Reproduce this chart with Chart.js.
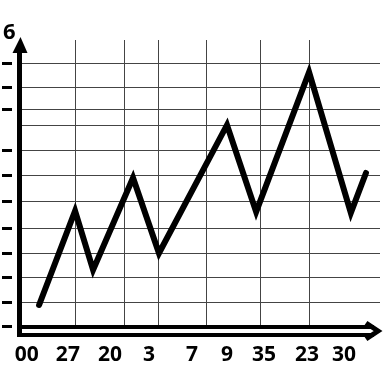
<!DOCTYPE html>
<html>
<head>
<meta charset="utf-8">
<script src="https://cdn.jsdelivr.net/npm/chart.js@4.4.1/dist/chart.umd.min.js"></script>
<style>
  html, body { margin: 0; padding: 0; background: #fff; }
  #wrap { width: 384px; height: 384px; }
</style>
</head>
<body>
<div id="wrap"><canvas id="grafico"></canvas></div>
<script>
// datos
let xValores = [5.3, 15.3, 20.3, 31.4, 38.6, 57.5, 65.6, 80.3, 91.9, 96.1];
let yValores = [0.48, 2.44, 1.21, 3.13, 1.56, 4.23, 2.42, 5.33, 2.40, 3.23];

// etiquetas del eje x y donde caen
let etiquetasX = ['00', '27', '20', '3', '7', '9', '35', '23', '30'];
let posEtiquetasX = [1.9, 13.3, 25.0, 35.8, 47.8, 57.5, 67.8, 79.7, 90.0];

// lineas de la cuadricula
let lineasVerticales = [15.3, 28.9, 38.6, 51.9, 66.7, 80.3];
let lineasHorizontales = [5.52, 5.02, 4.56, 4.21, 3.69, 3.17, 2.63, 2.08, 1.56, 1.06, 0.54];

// marcas cortas a la izquierda del eje y
let marcasY = [5.52, 5.02, 4.56, 3.69, 3.17, 2.63, 2.08, 1.56, 1.06, 0.54, 0.04];
let etiquetaArriba = '6';

let fuente = "'Open Sans', 'Noto Sans', sans-serif";

let puntos = [];
for (let i = 0; i < xValores.length; i++) {
    puntos.push({ x: xValores[i], y: yValores[i] });
}

// dibuja los ejes con flechas
let ejesConFlecha = {
    id: 'ejesConFlecha',
    afterDraw: function(chart) {
        let ctx = chart.ctx;
        let area = chart.chartArea;
        ctx.save();
        ctx.strokeStyle = '#000';
        ctx.fillStyle = '#000';

        // eje y
        let xEje = area.left - 0.5;
        ctx.lineWidth = 5;
        ctx.beginPath();
        ctx.moveTo(xEje, area.bottom + 9);
        ctx.lineTo(xEje, area.top + 10);
        ctx.stroke();
        ctx.beginPath();
        ctx.moveTo(xEje + 1, area.top - 3);
        ctx.lineTo(xEje - 7, area.top + 13);
        ctx.lineTo(xEje + 8, area.top + 13);
        ctx.closePath();
        ctx.fill();

        // eje x (doble linea)
        ctx.lineWidth = 4;
        ctx.beginPath();
        ctx.moveTo(xEje - 2.5, area.bottom - 1);
        ctx.lineTo(area.right - 6, area.bottom - 1);
        ctx.moveTo(xEje - 2.5, area.bottom + 7);
        ctx.lineTo(area.right - 6, area.bottom + 7);
        ctx.stroke();
        ctx.lineWidth = 5;
        ctx.lineJoin = 'miter';
        ctx.beginPath();
        ctx.moveTo(area.right - 14, area.bottom - 5);
        ctx.lineTo(area.right - 2, area.bottom + 3);
        ctx.lineTo(area.right - 14, area.bottom + 11);
        ctx.stroke();
        ctx.restore();
    }
};

let ctx = document.getElementById('grafico').getContext('2d');
let miGrafico = new Chart(ctx, {
    type: 'scatter',
    data: {
        datasets: [{
            data: puntos,
            showLine: true,
            borderColor: '#000',
            borderWidth: 6,
            borderJoinStyle: 'miter',
            borderCapStyle: 'round',
            pointRadius: 0,
            tension: 0,
            xAxisID: 'x',
            yAxisID: 'y'
        }]
    },
    options: {
        responsive: true,
        maintainAspectRatio: false,
        animation: false,
        layout: { padding: { left: 3, right: 4, top: 0, bottom: 0 } },
        plugins: {
            legend: { display: false },
            tooltip: { enabled: false },
            title: {
                display: true,
                text: etiquetaArriba,
                align: 'start',
                color: '#000',
                font: { family: fuente, size: 22, weight: 'bold', lineHeight: '15px' },
                padding: { top: 25, bottom: 0 }
            }
        },
        scales: {
            // rejilla horizontal (queda por dentro)
            yRejilla: {
                type: 'linear',
                position: 'left',
                min: 0,
                max: 6,
                afterBuildTicks: function(s) { s.ticks = lineasHorizontales.map(v => ({ value: v })); },
                afterFit: function(s) { s.width = 8; },
                ticks: { display: false },
                grid: { color: '#444', lineWidth: 1, drawTicks: false },
                border: { display: false }
            },
            // marcas cortas (queda por fuera)
            y: {
                type: 'linear',
                position: 'left',
                min: 0,
                max: 6,
                afterBuildTicks: function(s) { s.ticks = marcasY.map(v => ({ value: v })); },
                afterFit: function(s) { s.width = 9; },
                ticks: { display: false },
                grid: { drawOnChartArea: false, tickLength: 10, tickWidth: 3, tickColor: '#000' },
                border: { display: false }
            },
            x: {
                type: 'linear',
                position: 'bottom',
                min: 0,
                max: 100,
                afterBuildTicks: function(s) { s.ticks = lineasVerticales.map(v => ({ value: v })); },
                afterFit: function(s) { s.height = 0; },
                ticks: { display: false },
                grid: { color: '#444', lineWidth: 1, drawTicks: false },
                border: { display: false }
            },
            xEtiquetas: {
                type: 'linear',
                position: 'bottom',
                min: 0,
                max: 100,
                afterBuildTicks: function(s) { s.ticks = posEtiquetasX.map(v => ({ value: v })); },
                afterFit: function(s) { s.height = 56; },
                ticks: {
                    autoSkip: false,
                    maxRotation: 0,
                    padding: 6,
                    color: '#000',
                    font: { family: fuente, size: 21, weight: 'bold' },
                    callback: function(valor, indice) { return etiquetasX[indice]; }
                },
                grid: { display: false },
                border: { display: false }
            }
        }
    },
    plugins: [ejesConFlecha]
});
</script>
</body>
</html>
